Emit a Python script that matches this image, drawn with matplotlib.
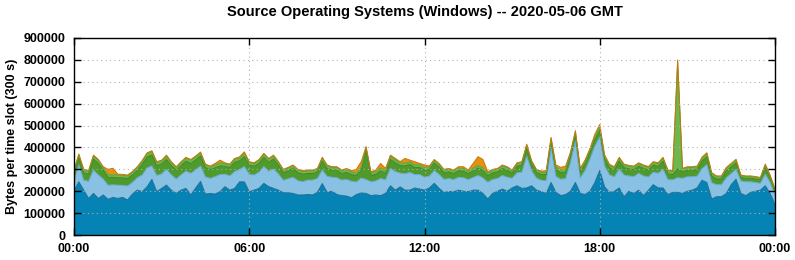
import numpy as np
import matplotlib
matplotlib.use("Agg")
import matplotlib.pyplot as plt

# bytes per 300 s slot, sampled every 10 minutes, in thousands (00:00 .. 24:00)
blue = [202, 243, 205, 167, 190, 167, 183, 163, 172, 167, 172, 160,
        187, 205, 198, 220, 254, 198, 213, 228, 205, 190, 205, 213,
        183, 215, 245, 187, 190, 187, 198, 221, 205, 213, 243, 243,
        198, 205, 213, 236, 221, 213, 205, 193, 193, 190, 183, 183,
        185, 183, 195, 235, 195, 200, 185, 180, 178, 170, 185, 192,
        190, 180, 183, 180, 190, 225, 205, 220, 205, 205, 215, 210,
        205, 215, 236, 213, 195, 198, 198, 205, 200, 198, 205, 205,
        190, 165, 190, 200, 210, 200, 215, 225, 213, 215, 225, 205,
        198, 190, 240, 195, 180, 185, 200, 240, 190, 185, 200, 240,
        295, 220, 195, 200, 215, 175, 200, 190, 205, 180, 205, 230,
        215, 215, 185, 195, 195, 190, 200, 205, 215, 250, 240, 165,
        175, 175, 190, 230, 255, 190, 180, 195, 200, 205, 225, 190,
        140]
light_blue = [45, 77, 45, 78, 107, 107, 73, 65, 57, 61, 55, 64,
              53, 57, 76, 86, 62, 74, 66, 72, 70, 66, 70, 79,
              99, 83, 71, 79, 69, 80, 78, 57, 65, 77, 56, 70,
              79, 69, 74, 77, 71, 89, 74, 57, 64, 74, 65, 61,
              66, 68, 63, 62, 73, 64, 77, 71, 76, 76, 57, 68,
              64, 63, 64, 78, 62, 80, 85, 63, 75, 81, 61, 67,
              59, 54, 59, 64, 59, 60, 55, 59, 62, 55, 58, 67,
              71, 76, 64, 58, 62, 64, 44, 59, 74, 145, 69, 55,
              52, 58, 158, 73, 75, 73, 132, 189, 71, 110, 148, 166,
              153, 96, 80, 66, 86, 99, 70, 77, 77, 90, 60, 57,
              67, 86, 68, 57, 67, 69, 66, 61, 54, 53, 82, 74,
              55, 55, 71, 51, 45, 57, 63, 48, 40, 31, 53, 50,
              43]
dark_green = [34, 34, 34, 34, 50, 53, 40, 35, 34, 34, 34, 34,
              34, 34, 48, 50, 50, 45, 45, 45, 42, 40, 42, 45,
              45, 45, 45, 42, 40, 40, 40, 36, 38, 42, 40, 45,
              42, 40, 40, 42, 40, 45, 40, 34, 36, 40, 36, 34,
              30, 30, 30, 40, 36, 32, 34, 30, 32, 30, 30, 35,
              134, 30, 30, 35, 30, 40, 40, 34, 36, 36, 32, 32,
              32, 30, 34, 34, 30, 30, 28, 30, 30, 28, 30, 34,
              34, 30, 30, 30, 32, 32, 24, 30, 32, 36, 30, 26,
              26, 28, 30, 30, 30, 30, 30, 30, 28, 30, 30, 30,
              30, 32, 32, 30, 36, 34, 32, 32, 32, 34, 32, 32,
              32, 36, 26, 24, 40, 30, 30, 30, 30, 34, 36, 30,
              26, 26, 32, 30, 30, 16, 16, 16, 16, 16, 30, 20,
              16]
light_green = [12, 12, 12, 12, 14, 15, 12, 12, 12, 12, 12, 12,
               12, 12, 14, 15, 15, 14, 14, 14, 14, 12, 14, 14,
               14, 14, 14, 12, 12, 12, 14, 12, 12, 14, 12, 14,
               12, 12, 14, 14, 14, 14, 12, 12, 12, 12, 12, 12,
               12, 12, 12, 14, 12, 12, 12, 12, 12, 12, 10, 12,
               12, 12, 12, 12, 12, 14, 14, 12, 12, 12, 12, 12,
               12, 12, 12, 12, 12, 12, 12, 12, 12, 12, 12, 12,
               12, 12, 12, 12, 12, 12, 10, 12, 12, 14, 12, 10,
               10, 10, 12, 12, 12, 12, 12, 12, 10, 12, 12, 12,
               12, 12, 12, 12, 14, 12, 12, 12, 12, 12, 12, 12,
               12, 14, 14, 14, 490, 12, 12, 12, 12, 14, 14, 12,
               10, 10, 12, 12, 12, 8, 8, 8, 8, 8, 12, 10,
               8]
orange = [4, 4, 4, 4, 4, 3, 4, 25, 30, 4, 4, 4,
          4, 4, 4, 4, 4, 4, 4, 6, 4, 4, 4, 4,
          4, 4, 4, 4, 4, 8, 12, 4, 4, 4, 6, 8,
          4, 4, 4, 4, 4, 4, 4, 4, 4, 4, 4, 4,
          4, 4, 4, 4, 4, 4, 4, 4, 6, 6, 18, 28,
          4, 4, 8, 22, 10, 6, 6, 6, 22, 8, 15, 6,
          12, 4, 4, 4, 4, 4, 4, 6, 8, 4, 22, 40,
          38, 6, 4, 4, 4, 4, 4, 4, 4, 5, 4, 4,
          6, 8, 6, 10, 12, 15, 6, 6, 6, 6, 6, 12,
          15, 6, 4, 4, 4, 4, 4, 4, 4, 4, 4, 4,
          4, 4, 4, 4, 8, 4, 4, 4, 4, 4, 4, 4,
          4, 4, 4, 4, 4, 3, 3, 3, 3, 3, 4, 4,
          3]

layers = [blue, light_blue, dark_green, light_green, orange]
fill_colors = ["#0583b4", "#88c1e3", "#4e9a2b", "#6cb84d", "#e8900f"]
edge_colors = ["#1b6d93", "#6aa8cf", "#3f8723", "#58a53a", "#c8760a"]

x_ticks = [0, 6, 12, 18, 24]
x_labels = ["00:00", "06:00", "12:00", "18:00", "00:00"]

plt.rcParams["font.family"] = ["Liberation Sans", "DejaVu Sans"]
plt.rcParams["font.weight"] = "bold"

hours = np.arange(len(blue)) / 6.0
data = np.array(layers, dtype=float) * 1000

fig = plt.figure(figsize=(7.95, 2.6), dpi=100)
ax = fig.add_axes([74 / 795, 25 / 260, 701 / 795, 197 / 260])

ax.stackplot(hours, data, colors=fill_colors, linewidth=0)
tops = np.cumsum(data, axis=0)
for top, ec in zip(tops, edge_colors):
    ax.plot(hours, top, color=ec, linewidth=0.7)

ax.set_xlim(0, 24)
ax.set_ylim(0, 900000)
ax.set_xticks(x_ticks)
ax.set_xticklabels(x_labels)
ax.set_yticks(np.arange(0, 900001, 100000))
ax.set_yticklabels([str(v) for v in range(0, 900001, 100000)])
ax.tick_params(direction="in", length=5, width=1, top=True, right=True,
               labelsize=9, pad=6)
ax.grid(True, color="#b0b0b0", linestyle=(0, (1, 3)), linewidth=0.8)
ax.set_axisbelow(False)
for s in ax.spines.values():
    s.set_linewidth(1)
    s.set_zorder(5)

ax.set_ylabel("Bytes per time slot (300 s)", fontsize=9, fontweight="bold")
ax.set_title("Source Operating Systems (Windows) -- 2020-05-06 GMT",
             fontsize=10.5, fontweight="bold", pad=16)

fig.savefig("out.png", dpi=100)
